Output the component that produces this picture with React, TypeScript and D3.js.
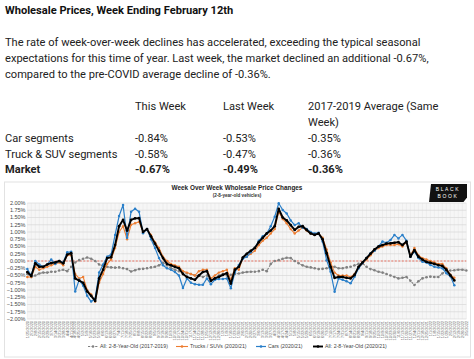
import React from 'react';
import * as d3 from 'd3';

// ---------- data ----------
const weekDates: Date[] = d3.timeSaturday.range(new Date(2020, 0, 25), new Date(2022, 2, 6));
const weekLabels: string[] = weekDates.map(d3.timeFormat('%-m/%-d/%Y'));

const yTicks: number[] = [2, 1.75, 1.5, 1.25, 1, 0.75, 0.5, 0.25, 0, -0.25, -0.5, -0.75, -1, -1.25, -1.5, -1.75, -2];

const avg2017_2019: number[] = [
  -0.45, -0.55, -0.5, -0.43, -0.4, -0.4, -0.37, -0.37, -0.33, -0.3,
  -0.35, -0.2, -0.05, 0.03, 0.08, 0.12, 0.08, 0.0, -0.12, -0.17,
  -0.2, -0.22, -0.23, -0.22, -0.25, -0.28, -0.36, -0.32, -0.28, -0.27,
  -0.25, -0.22, -0.2, -0.15, -0.06, -0.15, -0.25, -0.3, -0.35, -0.4,
  -0.42, -0.45, -0.5, -0.5, -0.55, -0.5, -0.7, -0.6, -0.5, -0.45,
  -0.5, -0.48, -0.45, -0.43, -0.4, -0.38, -0.37, -0.37, -0.35, -0.3,
  -0.35, -0.1, 0.0, 0.03, 0.08, 0.11, 0.1, 0.0, -0.08, -0.15,
  -0.2, -0.22, -0.25, -0.28, -0.27, -0.25, -0.22, -0.2, -0.25, -0.25,
  -0.22, -0.2, -0.15, -0.1, -0.08, -0.2, -0.28, -0.32, -0.37, -0.4,
  -0.45, -0.5, -0.55, -0.6, -0.58, -0.55, -0.68, -0.83, -0.7, -0.6,
  -0.56, -0.54, -0.55, -0.55, -0.43, -0.33, -0.33, -0.32, -0.3, -0.3,
  -0.33,
];

const trucks: number[] = [
  -0.55, -0.55, -0.2, -0.3, -0.25, -0.2, -0.15, -0.1, -0.05, -0.15,
  0.2, 0.2, -0.45, -0.6, -0.55, -1.0, -1.15, -1.4, -0.75, -0.45,
  -0.1, 0.05, 0.45, 1.0, 1.2, 0.75, 1.25, 1.3, 1.35, 1.0,
  1.1, 0.9, 0.65, 0.45, 0.15, 0.0, -0.1, -0.15, -0.2, -0.35,
  -0.4, -0.45, -0.5, -0.35, -0.3, -0.3, -0.6, -0.5, -0.4, -0.35,
  -0.3, -0.65, -0.25, -0.3, 0.1, 0.15, 0.25, 0.35, 0.55, 0.7,
  0.8, 0.95, 1.1, 1.7, 1.45, 1.3, 1.1, 0.95, 1.05, 1.15,
  1.05, 0.95, 0.9, 0.95, 0.8, 0.4, -0.05, -0.4, -0.5, -0.5,
  -0.5, -0.55, -0.45, -0.25, -0.1, 0.05, 0.2, 0.35, 0.45, 0.5,
  0.55, 0.55, 0.55, 0.58, 0.5, 0.65, 0.2, 0.45, 0.2, 0.1,
  0.05, 0.0, -0.05, -0.1, -0.1, -0.25, -0.47, -0.58,
];

const cars: number[] = [
  -0.28, -0.5, 0.0, -0.12, -0.2, -0.12, 0.05, -0.1, 0.0, -0.05,
  0.3, 0.32, -1.05, -0.65, -0.85, -1.2, -1.4, -1.3, -0.4, -0.12,
  0.15, 0.22, 0.9, 1.55, 1.93, 0.8, 1.7, 1.8, 1.7, 0.96,
  1.1, 0.75, 0.45, 0.1, -0.15, -0.25, -0.3, -0.38, -0.5, -0.93,
  -0.6, -0.75, -0.8, -0.82, -0.82, -0.6, -0.8, -0.65, -0.62, -0.62,
  -0.6, -0.94, -0.4, -0.14, 0.08, 0.15, 0.3, 0.45, 0.7, 0.85,
  0.95, 1.2, 1.53, 1.99, 1.76, 1.64, 1.4, 1.24, 1.3, 1.15,
  1.1, 1.0, 0.95, 0.97, 0.67, 0.03, -0.37, -1.06, -0.6, -0.65,
  -0.7, -0.77, -0.54, -0.25, -0.08, 0.1, 0.27, 0.35, 0.5, 0.67,
  0.63, 0.72, 0.9, 0.78, 0.9, 0.7, 0.15, 0.33, 0.1, -0.03,
  -0.05, -0.14, -0.2, -0.22, -0.25, -0.42, -0.53, -0.84,
];

const allVehicles: number[] = [
  -0.38, -0.52, -0.08, -0.2, -0.2, -0.12, -0.07, -0.05, 0.0, -0.08,
  0.22, 0.27, -0.6, -0.68, -0.75, -1.05, -1.2, -1.38, -0.6, -0.3,
  0.1, 0.13, 0.55, 1.2, 1.42, 1.05, 1.42, 1.47, 1.48, 1.0,
  1.1, 0.85, 0.6, 0.35, 0.1, -0.1, -0.15, -0.2, -0.25, -0.45,
  -0.55, -0.6, -0.65, -0.5, -0.38, -0.35, -0.68, -0.6, -0.55, -0.48,
  -0.42, -0.78, -0.3, -0.2, 0.12, 0.25, 0.35, 0.45, 0.65, 0.8,
  0.95, 1.05, 1.2, 1.8, 1.5, 1.4, 1.24, 1.07, 1.18, 1.2,
  1.07, 0.95, 0.9, 0.95, 0.75, 0.27, -0.2, -0.58, -0.55, -0.55,
  -0.58, -0.6, -0.48, -0.2, -0.05, 0.1, 0.25, 0.4, 0.5, 0.55,
  0.6, 0.61, 0.63, 0.65, 0.55, 0.67, 0.15, 0.38, 0.15, 0.05,
  -0.03, -0.06, -0.1, -0.14, -0.17, -0.3, -0.49, -0.67,
];

const paragraphLines: string[] = [
  'The rate of week-over-week declines has accelerated, exceeding the typical seasonal',
  'expectations for this time of year. Last week, the market declined an additional -0.67%,',
  'compared to the pre-COVID average decline of -0.36%.',
];
const tableHeaders: string[] = ['This Week', 'Last Week', '2017-2019 Average (Same'];
const tableRows: string[] = ['Car segments', 'Truck & SUV segments', 'Market'];
const thisWeek: string[] = ['-0.84%', '-0.58%', '-0.67%'];
const lastWeek: string[] = ['-0.53%', '-0.47%', '-0.49%'];
const avgSameWeek: string[] = ['-0.35%', '-0.36%', '-0.36%'];

const seriesNames: string[] = [
  'All: 2-8-Year-Old (2017-2019)',
  'Trucks / SUVs (2020/21)',
  'Cars (2020/21)',
  'All: 2-8-Year-Old (2020/21)',
];

// ---------- styles ----------
const styles = [
  { color: '#808080', width: 1.1, dash: '2.2,1.4', r: 1.3 },
  { color: '#ed7d31', width: 1.1, dash: '', r: 1.2 },
  { color: '#2a7fc9', width: 1.2, dash: '', r: 1.25 },
  { color: '#000000', width: 1.9, dash: '', r: 1.35 },
];

export default function App() {
  const W = 474;
  const H = 359;
  const plotL = 27.3;
  const plotR = 466.3;
  const plotT = 203;
  const plotB = 319;

  const x = d3
    .scalePoint<number>()
    .domain(d3.range(weekLabels.length))
    .range([plotL, plotR]);
  const y = d3.scaleLinear().domain([-2, 2]).range([plotB, plotT]);

  const line = d3
    .line<number>()
    .x((_, i) => x(i) as number)
    .y((d) => y(d));

  const allSeries = [avg2017_2019, trucks, cars, allVehicles];

  const font = 'Roboto, "Noto Sans", sans-serif';
  const cfont = '"Liberation Sans", Arial, sans-serif';
  const colX = [135, 223, 308];
  const fs = 11.1;

  const legendItems = [
    { lx: 88, tx: 100 },
    { lx: 176, tx: 190 },
    { lx: 256, tx: 268 },
    { lx: 313, tx: 325 },
  ];

  return (
    <svg
      width={W}
      height={H}
      style={{ position: 'absolute', left: 0, top: 0, background: '#fff' }}
    >
      {/* header text */}
      <text x={5} y={14} fontFamily={font} fontSize={11.1} fontWeight={700} fill="#111">
        Wholesale Prices, Week Ending February 12th
      </text>
      {paragraphLines.map((t, i) => (
        <text key={i} x={5} y={46 + i * 15.8} fontFamily={font} fontSize={fs} fill="#222">
          {t}
        </text>
      ))}
      {tableHeaders.map((t, i) => (
        <text key={i} x={colX[i]} y={110} fontFamily={font} fontSize={fs} fill="#222">
          {t}
        </text>
      ))}
      <text x={colX[2]} y={126} fontFamily={font} fontSize={fs} fill="#222">
        Week)
      </text>
      {tableRows.map((t, i) => {
        const bold = i === 2;
        const yy = 141.8 + i * 15.8;
        return (
          <g key={i} fontFamily={font} fontSize={fs} fill="#222" fontWeight={bold ? 700 : 400}>
            <text x={5} y={yy}>{t}</text>
            <text x={colX[0]} y={yy}>{thisWeek[i]}</text>
            <text x={colX[1]} y={yy}>{lastWeek[i]}</text>
            <text x={colX[2]} y={yy}>{avgSameWeek[i]}</text>
          </g>
        );
      })}

      {/* chart panel */}
      <rect x={4.5} y={182} width={466} height={175} fill="#fff" stroke="#e2e2e2" strokeWidth={1} />
      <text x={237} y={190} textAnchor="middle" fontFamily={cfont} fontSize={6.4} fontWeight={700} fill="#222">
        Week Over Week Wholesale Price Changes
      </text>
      <text x={237} y={196.5} textAnchor="middle" fontFamily={cfont} fontSize={4.6} fontWeight={700} fill="#333">
        (2-8-year-old vehicles)
      </text>

      {/* logo */}
      <polygon points="431,184 467,184 467,197.5 463.5,202 429,202" fill="#111" />
      <text x={448} y={191} textAnchor="middle" fontFamily={cfont} fontSize={5} fill="#fff" letterSpacing={1.6}>
        BLACK
      </text>
      <text x={448} y={198} textAnchor="middle" fontFamily={cfont} fontSize={5} fill="#fff" letterSpacing={1.6}>
        BOOK
      </text>

      {/* plot background & grid */}
      <rect x={plotL} y={plotT} width={plotR - plotL} height={plotB - plotT} fill="#f6f6f6" />
      {weekLabels.map((_, i) => (
        <line
          key={'v' + i}
          x1={x(i)}
          x2={x(i)}
          y1={plotT}
          y2={plotB}
          stroke="#e4e4e4"
          strokeWidth={0.5}
        />
      ))}
      {yTicks.map((t) => (
        <g key={'h' + t}>
          <line x1={plotL} x2={plotR} y1={y(t)} y2={y(t)} stroke="#d4d4d4" strokeWidth={0.6} />
          <text
            x={25.5}
            y={y(t) + 1.9}
            textAnchor="end"
            fontFamily={cfont}
            fontSize={5.5}
            fill="#444"
          >
            {d3.format('.2f')(t) + '%'}
          </text>
        </g>
      ))}
      <line x1={plotL} x2={plotR} y1={y(0)} y2={y(0)} stroke="#e8402a" strokeWidth={0.7} strokeDasharray="2,1.5" />

      {/* x labels */}
      {weekLabels.map((lab, i) => (
        <text
          key={'xl' + i}
          transform={`translate(${(x(i) as number) + 1.3},${plotB + 2}) rotate(-90)`}
          textAnchor="end"
          fontFamily={cfont}
          fontSize={3.9}
          fill="#666"
        >
          {lab}
        </text>
      ))}

      {/* series */}
      {allSeries.map((s, k) => (
        <g key={'s' + k}>
          <path
            d={line(s) || ''}
            fill="none"
            stroke={styles[k].color}
            strokeWidth={styles[k].width}
            strokeDasharray={styles[k].dash}
            strokeLinejoin="round"
          />
          {s.map((v, i) => (
            <circle key={i} cx={x(i)} cy={y(v)} r={styles[k].r} fill={styles[k].color} />
          ))}
        </g>
      ))}

      {/* legend */}
      {seriesNames.map((n, k) => (
        <g key={'lg' + k}>
          <line
            x1={legendItems[k].lx}
            x2={legendItems[k].tx - 2}
            y1={346.5}
            y2={346.5}
            stroke={styles[k].color}
            strokeWidth={styles[k].width}
            strokeDasharray={styles[k].dash}
          />
          <circle cx={(legendItems[k].lx + legendItems[k].tx - 2) / 2} cy={346.5} r={1.3} fill={styles[k].color} />
          <text x={legendItems[k].tx} y={348.3} fontFamily={cfont} fontSize={5.2} fill="#444">
            {n}
          </text>
        </g>
      ))}
    </svg>
  );
}
